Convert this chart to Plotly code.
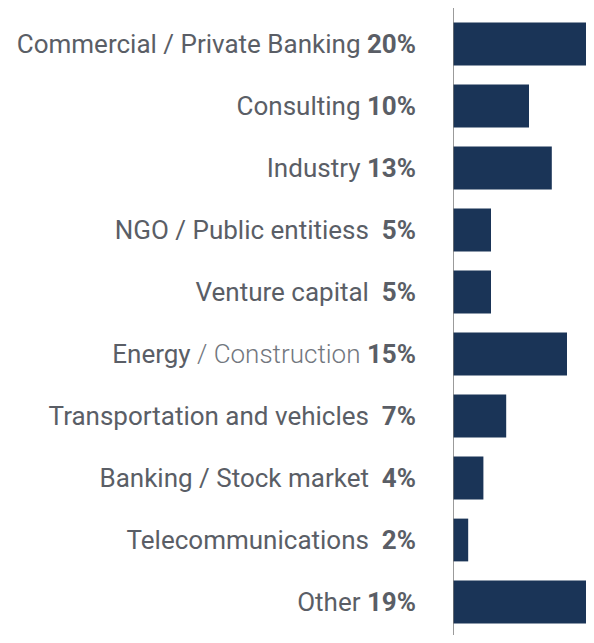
import plotly.graph_objects as go

categories = [
    "Commercial / Private Banking",
    "Consulting",
    "Industry",
    "NGO / Public entitiess",
    "Venture capital",
    "Energy / Construction",
    "Transportation and vehicles",
    "Banking / Stock market",
    "Telecommunications",
    "Other",
]
values = [20, 10, 13, 5, 5, 15, 7, 4, 2, 19]

BASE = "#5a5e66"
LIGHT = "#72777e"
BAR = "#1a3457"

ticktext = []
for c, v in zip(categories, values):
    sep = "&nbsp;&nbsp;" if v < 10 else " "
    if c.startswith("Energy"):
        name = f"Energy<span style='color:{LIGHT};font-weight:300'> / Construction</span>"
    else:
        name = c
    ticktext.append(f"{name}{sep}<b>{v}%</b>")

fig = go.Figure(go.Bar(
    x=values, y=categories, orientation="h",
    marker=dict(color=BAR, line=dict(width=0)),
    width=0.69, hoverinfo="skip",
))

fig.add_shape(type="line", xref="x", yref="paper", x0=0, x1=0, y0=-0.02, y1=1.02,
              line=dict(color="#7a7a7a", width=1.5))

fig.update_layout(
    width=578, height=627,
    margin=dict(l=445, r=0, t=5, b=2),
    paper_bgcolor="white", plot_bgcolor="white",
    showlegend=False,
    font=dict(family="Roboto", size=26, color=BASE),
    xaxis=dict(range=[0, 17.5], visible=False, fixedrange=True),
    yaxis=dict(
        tickmode="array", tickvals=categories, ticktext=ticktext,
        autorange="reversed", showline=False, showgrid=False, zeroline=False,
        ticks="", ticklabelstandoff=36,
        tickfont=dict(family="Roboto", size=26, color=BASE),
    ),
)

fig.write_html("out.html")
